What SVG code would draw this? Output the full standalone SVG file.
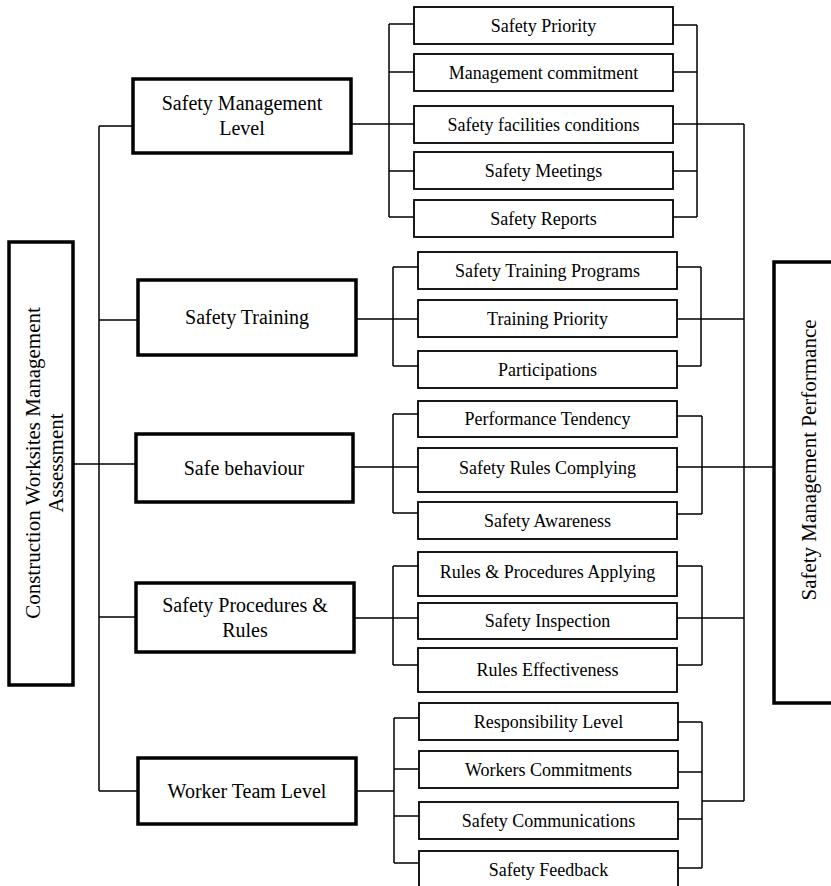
<svg xmlns="http://www.w3.org/2000/svg" width="831" height="886" viewBox="0 0 831 886" font-family="'Liberation Serif', 'Times New Roman', Tinos, 'DejaVu Serif', serif">
<style>
.main{fill:#fff;stroke:#000;stroke-width:3.5}
.item{fill:#fff;stroke:#000;stroke-width:1.8}
.ln{fill:none;stroke:#000;stroke-width:1.5}
text{font-family:'Liberation Serif','Times New Roman',Tinos,'DejaVu Serif',serif;fill:#000;text-anchor:middle}
.t20{font-size:20px}
.t18{font-size:18px}
.rot{font-size:21px}
</style>
<rect width="831" height="886" fill="#fff"/>
<g id="connectors" class="ln">
  <path d="M99,126V791"/>
  <path d="M99,126H133M99,320H138M73,464H136M99,617H136M99,791H138"/>
  <path d="M351,124H414M389,24V217M389,24H414M389,72H414M389,171H414M389,217H414"/>
  <path d="M673,25H697M673,72H697M673,124H744M673,171H697M673,217H697M697,25V217"/>
  <path d="M356,319H418M393,267V366M393,267H418M393,366H418"/>
  <path d="M677,267H701M677,319H744M677,366H701M701,267V366"/>
  <path d="M353,467H418M393,414V513M393,414H418M393,513H418"/>
  <path d="M677,416H702M677,467H774M677,514H702M702,416V514"/>
  <path d="M354,618H418M393,566V665M393,566H418M393,665H418"/>
  <path d="M677,566H702M677,618H744M677,665H702M702,566V665"/>
  <path d="M356,791H394M394,718V863M394,718H419M394,769H419M394,816H419M394,863H419"/>
  <path d="M678,722H702M678,772H702M678,819H702M678,868H702M702,722V868M702,801H744"/>
  <path d="M744,124V801"/>
</g>
<g id="n-construction">
  <rect class="main" x="9" y="242" width="64" height="443"/>
  <text class="rot" transform="translate(40,463) rotate(-90)">Construction Worksites Management</text>
  <text class="rot" transform="translate(63,463) rotate(-90)">Assessment</text>
</g>
<g id="n-performance">
  <rect class="main" x="774" y="262" width="80" height="441"/>
  <text class="rot" transform="translate(816,460) rotate(-90)">Safety Management Performance</text>
</g>
<g id="n-sml">
  <rect class="main" x="133" y="79" width="218" height="74"/>
  <text class="t20" x="242" y="110">Safety Management</text>
  <text class="t20" x="242" y="135">Level</text>
</g>
<g id="n-st">
  <rect class="main" x="138" y="280" width="218" height="75"/>
  <text class="t20" x="247" y="324">Safety Training</text>
</g>
<g id="n-sb">
  <rect class="main" x="136" y="434" width="217" height="68"/>
  <text class="t20" x="244" y="475">Safe behaviour</text>
</g>
<g id="n-spr">
  <rect class="main" x="136" y="583" width="218" height="69"/>
  <text class="t20" x="245" y="612">Safety Procedures &amp;</text>
  <text class="t20" x="245" y="637">Rules</text>
</g>
<g id="n-wtl">
  <rect class="main" x="138" y="758" width="218" height="66"/>
  <text class="t20" x="247" y="798">Worker Team Level</text>
</g>
<g id="n-sp"><rect class="item" x="414" y="7" width="259" height="37"/><text class="t18" x="543.5" y="32">Safety Priority</text></g>
<g id="n-mc"><rect class="item" x="414" y="54" width="259" height="37"/><text class="t18" x="543.5" y="79">Management commitment</text></g>
<g id="n-sfc"><rect class="item" x="414" y="106" width="259" height="37"/><text class="t18" x="543.5" y="131">Safety facilities conditions</text></g>
<g id="n-sm"><rect class="item" x="414" y="152" width="259" height="37"/><text class="t18" x="543.5" y="177">Safety Meetings</text></g>
<g id="n-sr"><rect class="item" x="414" y="200" width="259" height="37"/><text class="t18" x="543.5" y="225">Safety Reports</text></g>
<g id="n-stp"><rect class="item" x="418" y="252" width="259" height="37"/><text class="t18" x="547.5" y="277">Safety Training Programs</text></g>
<g id="n-tp"><rect class="item" x="418" y="300" width="259" height="37"/><text class="t18" x="547.5" y="325">Training Priority</text></g>
<g id="n-pa"><rect class="item" x="418" y="351" width="259" height="37"/><text class="t18" x="547.5" y="376">Participations</text></g>
<g id="n-pt"><rect class="item" x="418" y="401" width="259" height="36"/><text class="t18" x="547.5" y="425">Performance Tendency</text></g>
<g id="n-src"><rect class="item" x="418" y="448" width="259" height="44"/><text class="t18" x="547.5" y="474">Safety Rules Complying</text></g>
<g id="n-sa"><rect class="item" x="418" y="502" width="259" height="37"/><text class="t18" x="547.5" y="527">Safety Awareness</text></g>
<g id="n-rpa"><rect class="item" x="418" y="552" width="259" height="44"/><text class="t18" x="547.5" y="578">Rules &amp; Procedures Applying</text></g>
<g id="n-si"><rect class="item" x="418" y="603" width="259" height="36"/><text class="t18" x="547.5" y="627">Safety Inspection</text></g>
<g id="n-re"><rect class="item" x="418" y="648" width="259" height="44"/><text class="t18" x="547.5" y="676">Rules Effectiveness</text></g>
<g id="n-rl"><rect class="item" x="419" y="703" width="259" height="37"/><text class="t18" x="548.5" y="728">Responsibility Level</text></g>
<g id="n-wc"><rect class="item" x="419" y="751" width="259" height="37"/><text class="t18" x="548.5" y="776">Workers Commitments</text></g>
<g id="n-sc"><rect class="item" x="419" y="802" width="259" height="37"/><text class="t18" x="548.5" y="827">Safety Communications</text></g>
<g id="n-sf"><rect class="item" x="419" y="851" width="259" height="45"/><text class="t18" x="548.5" y="876">Safety Feedback</text></g>
</svg>
